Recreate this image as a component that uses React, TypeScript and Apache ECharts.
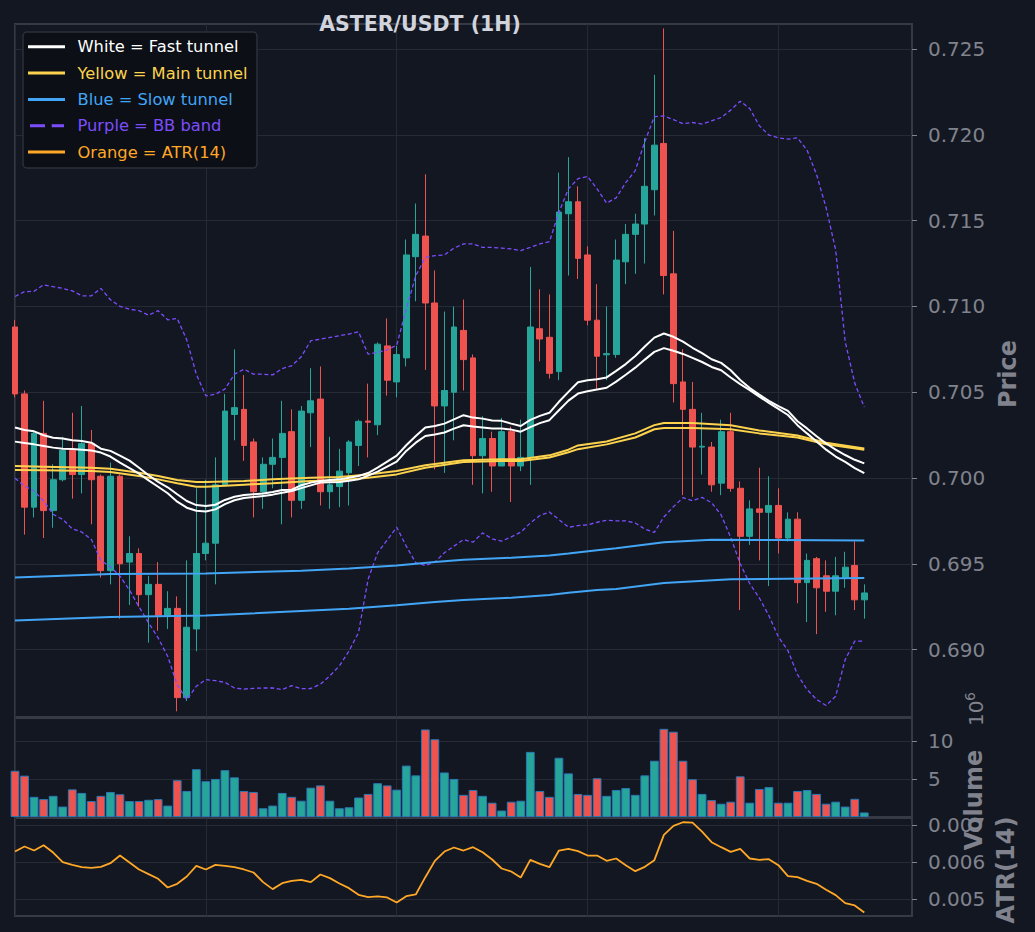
import React, { useEffect, useRef } from "react";
import * as echarts from "echarts";

// ---------- data ----------
const opens = [
  0.7088, 0.7049, 0.6983, 0.7026, 0.6981, 0.6999, 0.7016, 0.7002, 0.7020, 0.7001,
  0.6946, 0.7001, 0.6951, 0.6956, 0.6932, 0.6938, 0.6920, 0.6924, 0.6872, 0.6912,
  0.6956, 0.6962, 0.6996, 0.7037, 0.7040, 0.7021, 0.6992, 0.7008, 0.7012, 0.7027,
  0.6987, 0.7038, 0.7046, 0.6992, 0.6995, 0.7003, 0.7019, 0.70332, 0.7031, 0.7077,
  0.7056, 0.7070, 0.7129, 0.7141, 0.7102, 0.7042, 0.7050, 0.7086, 0.7070, 0.7013,
  0.7023, 0.7007, 0.7027, 0.7007, 0.7012, 0.7087, 0.7082, 0.7062, 0.7154, 0.7161,
  0.7130, 0.7092, 0.70718, 0.7072, 0.7126, 0.7142, 0.7148, 0.7168, 0.7195, 0.7119,
  0.7056, 0.7040, 0.7018, 0.7018, 0.6997, 0.7027, 0.6994, 0.6966, 0.6982, 0.6980,
  0.6984, 0.6965, 0.6976, 0.6939, 0.6953, 0.6943, 0.6934, 0.6942, 0.6949, 0.6929,
];
const highs = [
  0.7092, 0.7051, 0.7027, 0.7045, 0.7008, 0.7024, 0.7038, 0.7042, 0.7028, 0.7002,
  0.7009, 0.7002, 0.6966, 0.6959, 0.6943, 0.6951, 0.6934, 0.6931, 0.6952, 0.6994,
  0.6999, 0.7012, 0.7049, 0.7075, 0.7060, 0.7023, 0.7012, 0.7023, 0.7045, 0.7040,
  0.7042, 0.7064, 0.7065, 0.7024, 0.7017, 0.7022, 0.7034, 0.7055, 0.7079, 0.7093,
  0.7077, 0.7139, 0.7160, 0.7177, 0.7121, 0.7097, 0.7100, 0.7104, 0.7072, 0.7036,
  0.7027, 0.7035, 0.7030, 0.7034, 0.7123, 0.7110, 0.7107, 0.7178, 0.7187, 0.7170,
  0.7135, 0.7113, 0.7100, 0.7139, 0.7148, 0.7154, 0.7198, 0.7235, 0.7262, 0.7144,
  0.7075, 0.7056, 0.7038, 0.7021, 0.7034, 0.7038, 0.6998, 0.6987, 0.7006, 0.7001,
  0.6994, 0.6980, 0.6980, 0.6956, 0.6954, 0.6952, 0.6954, 0.6957, 0.6963, 0.6938,
];
const lows = [
  0.7047, 0.6967, 0.6977, 0.6965, 0.6971, 0.6998, 0.6988, 0.6991, 0.6973, 0.6942,
  0.6938, 0.6918, 0.6926, 0.6925, 0.6904, 0.6911, 0.6912, 0.6864, 0.6870, 0.6899,
  0.6952, 0.6938, 0.6995, 0.7022, 0.7010, 0.6977, 0.6982, 0.6994, 0.6973, 0.6977,
  0.6982, 0.7018, 0.6984, 0.6982, 0.6983, 0.6984, 0.7007, 0.7012, 0.7025, 0.7048,
  0.7047, 0.7065, 0.7103, 0.7063, 0.7005, 0.7003, 0.7022, 0.7051, 0.6996, 0.6991,
  0.6992, 0.7007, 0.6986, 0.7004, 0.6996, 0.7068, 0.7058, 0.7057, 0.7118, 0.7116,
  0.7089, 0.7052, 0.7057, 0.7070, 0.7113, 0.7119, 0.7125, 0.7153, 0.7107, 0.7044,
  0.6990, 0.6989, 0.7002, 0.6992, 0.6990, 0.6992, 0.6923, 0.6961, 0.6952, 0.6937,
  0.6956, 0.6963, 0.6927, 0.6916, 0.6909, 0.6922, 0.6920, 0.6936, 0.6923, 0.6918,
];
const closes = [
  0.7049, 0.6983, 0.7026, 0.6981, 0.6999, 0.7016, 0.7002, 0.7020, 0.6999, 0.6946,
  0.7001, 0.6950, 0.6956, 0.6932, 0.6938, 0.6920, 0.6924, 0.6872, 0.6913, 0.6956,
  0.6962, 0.6996, 0.7039, 0.7041, 0.7019, 0.6992, 0.7008, 0.7012, 0.7026, 0.6987,
  0.7039, 0.7045, 0.6992, 0.6996, 0.7004, 0.7021, 0.7033, 0.70325, 0.7078, 0.7057,
  0.7072, 0.7130, 0.7142, 0.7102, 0.7042, 0.7051, 0.7088, 0.7069, 0.7013, 0.7023,
  0.7007, 0.7027, 0.7007, 0.7012, 0.7088, 0.7081, 0.7061, 0.7155, 0.7161, 0.7128,
  0.7092, 0.7071, 0.70725, 0.7127, 0.7142, 0.7148, 0.7170, 0.7194, 0.7118, 0.7055,
  0.7040, 0.7018, 0.70185, 0.6996, 0.7027, 0.6994, 0.6966, 0.6982, 0.6980, 0.6984,
  0.6965, 0.6976, 0.6939, 0.6952, 0.6936, 0.6934, 0.6943, 0.6948, 0.6929, 0.6933,
];
// volume in millions
const volumes = [
  6.07, 5.43, 2.65, 2.35, 2.78, 1.37, 3.63, 3.16, 2.09, 2.78,
  3.29, 2.99, 2.09, 2.09, 2.26, 2.35, 1.5, 4.83, 3.42, 6.28,
  4.7, 5.0, 6.15, 5.21, 3.42, 3.29, 1.15, 1.5, 3.16, 2.65,
  2.14, 3.85, 4.15, 2.14, 1.15, 1.28, 2.56, 3.03, 4.44, 4.15,
  3.59, 6.75, 5.47, 11.5, 10.21, 5.85, 5.0, 2.91, 3.55, 2.78,
  1.88, 0.85, 2.01, 2.14, 8.55, 3.42, 2.65, 7.78, 5.73, 3.03,
  2.91, 5.09, 2.78, 3.55, 3.8, 2.91, 5.47, 7.39, 11.58, 11.2,
  7.39, 4.96, 3.03, 2.22, 1.75, 2.01, 5.34, 1.88, 3.68, 3.93,
  1.88, 1.88, 3.42, 3.55, 3.03, 1.75, 2.01, 1.37, 2.39, 0.6,
];
const atr14 = [
  0.006287, 0.006422, 0.006314, 0.006457, 0.00626, 0.006, 0.005928, 0.005865, 0.005848, 0.005874,
  0.005973, 0.006179, 0.005991, 0.005803, 0.005677, 0.005552, 0.005318, 0.005417, 0.005614, 0.005901,
  0.005803, 0.005928, 0.005901, 0.005865, 0.005803, 0.005722, 0.005462, 0.005274, 0.005435, 0.005498,
  0.005525, 0.005462, 0.005668, 0.00557, 0.005426, 0.0053, 0.005121, 0.005058, 0.005076, 0.005049,
  0.004915, 0.005085, 0.00513, 0.005596, 0.006036, 0.006287, 0.006395, 0.006314, 0.006404, 0.006269,
  0.006072, 0.00583, 0.005749, 0.005587, 0.006063, 0.005955, 0.005865, 0.006314, 0.006359, 0.006296,
  0.006179, 0.006179, 0.006036, 0.006099, 0.005919, 0.005758, 0.005874, 0.006054, 0.006735, 0.006978,
  0.007076, 0.007067, 0.006825, 0.006538, 0.006404, 0.006278, 0.006359, 0.006099, 0.006063, 0.006081,
  0.005919, 0.005623, 0.005596, 0.005498, 0.005417, 0.005256, 0.005112, 0.004897, 0.004834, 0.004646,
];
const fastUpper = [
  0.70294, 0.7028, 0.70272, 0.70249, 0.70235, 0.7023, 0.7022, 0.70216, 0.70206, 0.70171,
  0.70158, 0.7013, 0.70101, 0.7006, 0.70016, 0.69977, 0.69946, 0.69905, 0.69866, 0.69842,
  0.69837, 0.69844, 0.69872, 0.69891, 0.69901, 0.69905, 0.69909, 0.69918, 0.6993, 0.69932,
  0.69958, 0.69973, 0.69982, 0.69988, 0.69992, 0.70002, 0.70012, 0.70029, 0.7006, 0.70095,
  0.7013, 0.70191, 0.70245, 0.70294, 0.70303, 0.70317, 0.70342, 0.70366, 0.70352, 0.70346,
  0.70335, 0.70333, 0.70317, 0.70303, 0.70339, 0.70362, 0.7038, 0.70444, 0.70502, 0.70558,
  0.7057, 0.70576, 0.70586, 0.70624, 0.70664, 0.70711, 0.70766, 0.70818, 0.70842, 0.70823,
  0.70795, 0.70759, 0.70728, 0.70692, 0.70671, 0.70628, 0.70571, 0.70524, 0.70486, 0.7045,
  0.70419, 0.70391, 0.70331, 0.70289, 0.70243, 0.70201, 0.70165, 0.70134, 0.70106, 0.70085,
];
const fastLower = [
  0.70212, 0.70204, 0.70196, 0.70187, 0.70177, 0.70171, 0.70169, 0.70165, 0.7016, 0.70148,
  0.70125, 0.7009, 0.70058, 0.70025, 0.69986, 0.69949, 0.69911, 0.69862, 0.69827, 0.69809,
  0.69805, 0.69817, 0.69848, 0.6987, 0.69883, 0.69889, 0.69895, 0.69903, 0.69914, 0.69924,
  0.69941, 0.69957, 0.69973, 0.69975, 0.69977, 0.69984, 0.69992, 0.70014, 0.70037, 0.70066,
  0.70095, 0.70158, 0.70206, 0.70245, 0.70253, 0.70265, 0.70288, 0.70307, 0.703, 0.70294,
  0.70288, 0.70288, 0.70282, 0.7027, 0.70296, 0.7032, 0.70337, 0.70395, 0.70451, 0.70492,
  0.70506, 0.70516, 0.70526, 0.70562, 0.70602, 0.70643, 0.7069, 0.70735, 0.70757, 0.70742,
  0.70723, 0.707, 0.70676, 0.70647, 0.70628, 0.70586, 0.70547, 0.70512, 0.70474, 0.70438,
  0.70403, 0.70367, 0.70308, 0.7026, 0.70213, 0.70165, 0.70125, 0.70094, 0.70058, 0.70028,
];
const bbUpper = [
  0.71058, 0.71086, 0.71088, 0.71126, 0.71115, 0.71105, 0.71091, 0.71062, 0.71062, 0.71105,
  0.71039, 0.71, 0.70984, 0.70975, 0.70949, 0.70975, 0.70922, 0.7093, 0.70805, 0.70605,
  0.70479, 0.70488, 0.70518, 0.70605, 0.70634, 0.70605, 0.70605, 0.70601, 0.70638, 0.70654,
  0.70707, 0.708, 0.70809, 0.70819, 0.70829, 0.70839, 0.70852, 0.70722, 0.70732, 0.70747,
  0.70774, 0.70984, 0.71179, 0.71286, 0.71296, 0.713, 0.7134, 0.71364, 0.71364, 0.71344,
  0.71344, 0.7134, 0.71335, 0.71325, 0.71344, 0.71364, 0.71377, 0.71549, 0.71685, 0.71745,
  0.71757, 0.71685, 0.71602, 0.71633, 0.71721, 0.71792, 0.7196, 0.72106, 0.7211, 0.72089,
  0.72065, 0.72072, 0.72063, 0.72082, 0.72101, 0.72144, 0.72196, 0.72153, 0.72053, 0.71999,
  0.71982, 0.71975, 0.71982, 0.71911, 0.71768, 0.71575, 0.7133, 0.70795, 0.70553, 0.70413,
];
const bbLower = [
  0.69998, 0.69953, 0.69924, 0.69866, 0.69788, 0.69759, 0.69704, 0.69685, 0.69642, 0.6952,
  0.69482, 0.69428, 0.69346, 0.69249, 0.69156, 0.69068, 0.68961, 0.68794, 0.68708, 0.68786,
  0.68825, 0.68819, 0.68809, 0.68776, 0.6877, 0.68774, 0.68776, 0.68776, 0.68767, 0.6879,
  0.68772, 0.68773, 0.68798, 0.68847, 0.68905, 0.68992, 0.69099, 0.69409, 0.69564, 0.69638,
  0.69713, 0.69603, 0.69506, 0.6949, 0.6951, 0.69564, 0.69603, 0.69641, 0.69626, 0.6968,
  0.69645, 0.69632, 0.69657, 0.69684, 0.69738, 0.69781, 0.69802, 0.69758, 0.69713, 0.69722,
  0.69727, 0.69742, 0.69754, 0.6975, 0.6975, 0.69738, 0.69702, 0.69683, 0.69773, 0.69833,
  0.69885, 0.69868, 0.69887, 0.69856, 0.69785, 0.69654, 0.695, 0.69384, 0.69301, 0.69198,
  0.69074, 0.68994, 0.68854, 0.68767, 0.68709, 0.68674, 0.68728, 0.68942, 0.69049, 0.6905,
];
// sparse readings [candle index, value]
const mainUpperPts = [
  [0, 0.7007], [3, 0.70066], [8, 0.7006], [10, 0.70054], [13, 0.70031], [15, 0.70012],
  [17, 0.69988], [19, 0.69977], [20, 0.69977], [24, 0.69982], [27, 0.69992], [31, 0.70002],
  [34, 0.70006], [37, 0.70021], [40, 0.70041], [43, 0.70074], [47, 0.70103], [51, 0.70109],
  [53, 0.70109], [56, 0.70132], [58, 0.70165], [59, 0.7019], [62, 0.70213], [65, 0.7026],
  [67, 0.70308], [68, 0.7032], [71, 0.7032], [75, 0.70308], [78, 0.70277], [82, 0.70248],
  [85, 0.70205], [89, 0.70172],
];
const mainLowerPts = [
  [0, 0.70047], [3, 0.70045], [8, 0.70041], [10, 0.70035], [13, 0.70012], [15, 0.69992],
  [17, 0.69969], [19, 0.69949], [20, 0.69949], [24, 0.69961], [27, 0.69969], [31, 0.69982],
  [34, 0.69986], [37, 0.70002], [40, 0.70021], [43, 0.7006], [47, 0.70093], [51, 0.70099],
  [53, 0.70099], [56, 0.70119], [58, 0.7015], [59, 0.70168], [62, 0.70196], [65, 0.70236],
  [67, 0.70284], [68, 0.70291], [71, 0.70291], [75, 0.70284], [78, 0.7026], [82, 0.70236],
  [85, 0.70196], [89, 0.70165],
];
const slowUpperPts = [
  [0, 0.6942], [10, 0.6944], [20, 0.69443], [30, 0.6946], [35, 0.69473], [40, 0.6949],
  [44, 0.6951], [47, 0.69523], [52, 0.69535], [56, 0.69548], [58, 0.6956], [61, 0.69579],
  [63, 0.6959], [68, 0.69626], [73, 0.6964], [80, 0.69638], [89, 0.69635],
];
const slowLowerPts = [
  [0, 0.6917], [10, 0.6919], [20, 0.69198], [30, 0.69225], [35, 0.69238], [40, 0.69258],
  [44, 0.69277], [47, 0.69289], [52, 0.69302], [56, 0.69318], [58, 0.69331], [61, 0.69347],
  [63, 0.69353], [68, 0.69388], [75, 0.6941], [89, 0.69417],
];
const AXIS_SLOTS = 95; // x range of the panels, in candle slots
const priceRange = [0.68607, 0.72646];
const priceTicks = [0.69, 0.695, 0.7, 0.705, 0.71, 0.715, 0.72, 0.725];
const volumeRange = [0, 13];
const volumeTicks = [5, 10];
const atrRange = [0.00455, 0.00719];
const atrTicks = [0.005, 0.006, 0.007];
const legendItems = [
  { label: "White = Fast tunnel", color: "#ffffff", dashed: false },
  { label: "Yellow = Main tunnel", color: "#fdd34d", dashed: false },
  { label: "Blue = Slow tunnel", color: "#42a5f5", dashed: false },
  { label: "Purple = BB band", color: "#7c4dff", dashed: true },
  { label: "Orange = ATR(14)", color: "#ffa726", dashed: false },
];

const N = opens.length;
function sparse(pts: number[][]) {
  const a: (number | null)[] = new Array(N).fill(null);
  pts.forEach(([i, v]) => (a[i] = v));
  return a;
}
const isMult = (v: number, step: number) => Math.abs(v / step - Math.round(v / step)) < 1e-6;

const BG = "#131722";
const BORDER = "#363a45";
const GRIDC = "#262a34";
const TXT = "#80838d";
const FONT = "DejaVu Sans";
const UP = "#26a69a";
const DOWN = "#ef5350";

export default function App() {
  const ref = useRef<HTMLDivElement>(null);
  useEffect(() => {
    document.body.style.margin = "0";
    document.body.style.background = BG;
    const chart = echarts.init(ref.current!, undefined, { renderer: "svg" });
    const cats = Array.from({ length: AXIS_SLOTS }, (_, i) => String(i));
    const candleData = opens.map((o, i) => [o, closes[i], lows[i], highs[i]]);
    const volData = volumes.map((v, i) => ({
      value: v,
      itemStyle: { color: closes[i] >= opens[i] ? UP : DOWN },
    }));
    const gridBase = {
      left: 15, width: 897, show: true, backgroundColor: BG,
      borderColor: BORDER, borderWidth: 2,
    };
    const xBase = (gi: number) => ({
      type: "category", gridIndex: gi, data: cats, boundaryGap: false,
      axisLine: { show: false }, axisTick: { show: false }, axisLabel: { show: false },
      splitLine: { show: true, interval: (idx: number) => idx % 20 === 0, lineStyle: { color: GRIDC, width: 1 } },
    });
    const yBase = (gi: number, ticks: number[]) => ({
      type: "value", gridIndex: gi, position: "right", scale: true,
      axisLine: { show: false },
      axisTick: { show: true, length: 5, customValues: ticks, lineStyle: { color: TXT, width: 1 } },
      splitLine: { show: true, lineStyle: { color: GRIDC, width: 1 } },
    });
    const lbl = (ticks: number[], fmt: (v: number) => string) => ({
      color: TXT, fontSize: 20, fontFamily: FONT, margin: 16, formatter: fmt, customValues: ticks,
    });
    const lineS = (data: any[], color: string, width: number, dashed = false, connect = false) => ({
      type: "line", xAxisIndex: 0, yAxisIndex: 0, data, showSymbol: false, symbol: "none",
      connectNulls: connect, z: 3, silent: true,
      lineStyle: { color, width, type: dashed ? [4, 2.6] : "solid" },
    });

    const legendGraphics: any[] = [
      {
        type: "rect", shape: { x: 23, y: 32, width: 234, height: 136, r: 4 },
        style: { fill: "#0c0f16", stroke: "#2c303a", lineWidth: 1.5 }, z: 100,
      },
    ];
    legendItems.forEach((it, k) => {
      const y = 46.7 + k * 26.35;
      legendGraphics.push({
        type: "line", shape: it.dashed ? { x1: 30, y1: y, x2: 64, y2: y } : { x1: 28, y1: y, x2: 65, y2: y },
        style: { stroke: it.color, lineWidth: 3, lineDash: it.dashed ? [15, 6.7] : null }, z: 101,
      });
      legendGraphics.push({
        type: "text", x: 77.5, y,
        style: { text: it.label, fill: it.color, fontSize: 16.3, fontFamily: FONT, textVerticalAlign: "middle", textAlign: "left" },
        z: 101,
      });
    });

    const vText = (text: string, x: number, y: number) => ({
      type: "text", x, y, rotation: Math.PI / 2, z: 100,
      style: { text, fill: TXT, fontSize: 24, fontWeight: "bold", fontFamily: FONT, textAlign: "center", textVerticalAlign: "middle" },
    });

    chart.setOption({
      animation: false,
      backgroundColor: BG,
      grid: [
        { ...gridBase, top: 24, height: 693 },
        { ...gridBase, top: 718, height: 99 },
        { ...gridBase, top: 818, height: 98 },
      ],
      xAxis: [xBase(0), xBase(1), xBase(2)],
      yAxis: [
        {
          ...yBase(0, priceTicks), min: priceRange[0], max: priceRange[1], splitNumber: 8,
          axisLabel: lbl(priceTicks, (v: number) => (isMult(v, 0.005) ? v.toFixed(3) : "")),
        },
        {
          ...yBase(1, volumeTicks), min: volumeRange[0], max: volumeRange[1], interval: 5,
          axisLabel: lbl(volumeTicks, (v: number) => (v > 0 && isMult(v, 5) ? String(v) : "")),
        },
        {
          ...yBase(2, atrTicks), min: atrRange[0], max: atrRange[1], splitNumber: 3,
          axisLabel: lbl(atrTicks, (v: number) => (isMult(v, 0.001) ? v.toFixed(3) : "")),
        },
      ],
      series: [
        {
          type: "candlestick", xAxisIndex: 0, yAxisIndex: 0, data: candleData, barWidth: "66%", z: 1, silent: true,
          itemStyle: { color: UP, color0: DOWN, borderColor: UP, borderColor0: DOWN, borderWidth: 1 },
        },
        lineS(bbUpper, "#7c4dff", 1.3, true),
        lineS(bbLower, "#7c4dff", 1.3, true),
        lineS(sparse(slowUpperPts), "#42a5f5", 2, false, true),
        lineS(sparse(slowLowerPts), "#42a5f5", 2, false, true),
        lineS(sparse(mainUpperPts), "#fdd34d", 2, false, true),
        lineS(sparse(mainLowerPts), "#fdd34d", 2, false, true),
        lineS(fastUpper, "#ffffff", 2),
        lineS(fastLower, "#ffffff", 2),
        {
          type: "bar", xAxisIndex: 1, yAxisIndex: 1, data: volData, barWidth: "92%", silent: true,
          itemStyle: { borderColor: "#2a78b5", borderWidth: 1 },
        },
        {
          type: "line", xAxisIndex: 2, yAxisIndex: 2, data: atr14, showSymbol: false, symbol: "none", silent: true,
          lineStyle: { color: "#ffa726", width: 1.8 },
        },
      ],
      graphic: [
        {
          type: "text", x: 420, y: 24, z: 100,
          style: { text: "ASTER/USDT (1H)", fill: "#d1d4dc", fontSize: 20.5, fontWeight: "bold", fontFamily: FONT, textAlign: "center", textVerticalAlign: "middle" },
        },
        ...legendGraphics,
        vText("Price", 1008, 374),
        vText("Volume", 974, 800),
        vText("ATR(14)", 1006, 870),
        {
          type: "group", x: 986, y: 726, rotation: Math.PI / 2, z: 100,
          children: [
            { type: "text", x: 0, y: 0, style: { text: "10", fill: TXT, fontSize: 20, fontFamily: FONT, textAlign: "left", textVerticalAlign: "bottom" } },
            { type: "text", x: 25, y: -9, style: { text: "6", fill: TXT, fontSize: 14, fontFamily: FONT, textAlign: "left", textVerticalAlign: "bottom" } },
          ],
        },
      ],
    });
    return () => chart.dispose();
  }, []);
  return <div ref={ref} style={{ width: 1035, height: 932 }} />;
}
